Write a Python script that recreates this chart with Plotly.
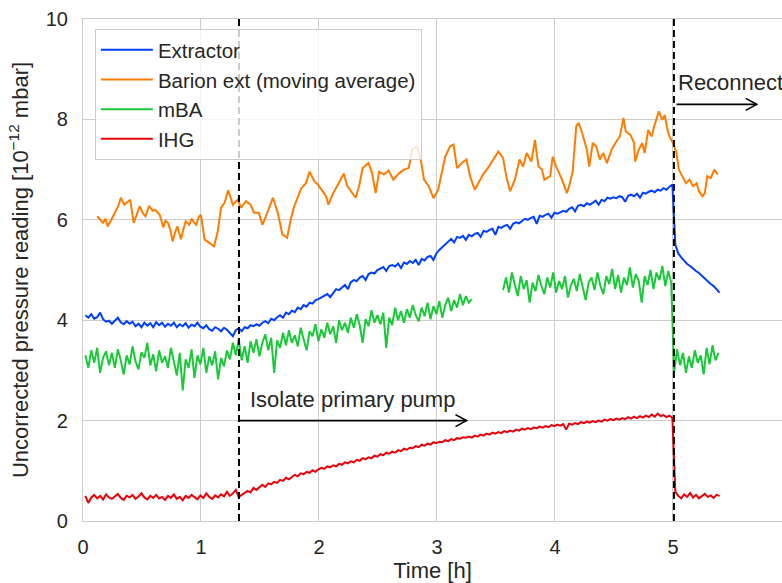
import plotly.graph_objects as go

# ---------------- data ----------------
dt = 0.025
extractor_t0 = 0.02
extractor = [
    4.10, 4.05, 4.12, 4.03, 4.06, 4.15, 4.02, 3.97, 3.99, 3.93,
    3.99, 4.05, 3.96, 3.92, 3.98, 3.93, 3.97, 3.88, 3.93, 3.86,
    3.95, 3.89, 3.94, 3.86, 3.96, 3.90, 3.95, 3.87, 3.93, 3.89,
    3.95, 3.86, 3.92, 3.88, 3.94, 3.85, 3.91, 3.88, 3.95, 3.87,
    3.84, 3.90, 3.82, 3.79, 3.86, 3.83, 3.78, 3.85, 3.81, 3.74,
    3.68, 3.80, 3.84, 3.78, 3.86, 3.84, 3.90, 3.88, 3.92, 3.89,
    3.95, 3.98, 3.94, 4.03, 4.00, 4.06, 4.10, 4.05, 4.15, 4.12,
    4.19, 4.16, 4.25, 4.22, 4.30, 4.27, 4.35, 4.33, 4.40, 4.42,
    4.45, 4.48, 4.52, 4.46, 4.55, 4.62, 4.60, 4.66, 4.70, 4.62,
    4.76, 4.80, 4.78, 4.85, 4.88, 4.80, 4.92, 4.95, 4.93, 5.00,
    5.03, 5.06, 4.98, 5.08, 5.10, 5.07, 5.13, 5.04, 5.15, 5.12,
    5.18, 5.14, 5.20, 5.10, 5.22, 5.19, 5.26, 5.28, 5.20, 5.33,
    5.40, 5.46, 5.52, 5.56, 5.62, 5.55, 5.66, 5.64, 5.68, 5.60,
    5.70, 5.67, 5.72, 5.74, 5.66, 5.78, 5.76, 5.80, 5.82, 5.70,
    5.86, 5.84, 5.88, 5.90, 5.82, 5.92, 5.95, 5.93, 5.98, 6.02,
    6.00, 6.04, 6.06, 5.92, 6.08, 6.06, 6.10, 6.12, 6.04, 6.14,
    6.12, 6.15, 6.18, 6.16, 6.22, 6.25, 6.17, 6.28, 6.30, 6.27,
    6.33, 6.30, 6.34, 6.38, 6.30, 6.40, 6.37, 6.44, 6.42, 6.45,
    6.43, 6.47, 6.45, 6.36, 6.48, 6.50, 6.47, 6.52, 6.44, 6.54,
    6.52, 6.56, 6.58, 6.55, 6.60, 6.58, 6.63, 6.60, 6.66, 6.70,
    5.50, 5.33, 5.25, 5.18, 5.12, 5.08, 5.02, 4.98, 4.94, 4.88,
    4.82, 4.78, 4.72, 4.68, 4.62, 4.55,
]

ihg_t0 = 0.02
ihg = [
    0.50, 0.36, 0.47, 0.52, 0.45, 0.50, 0.43, 0.53, 0.47, 0.44,
    0.49, 0.54, 0.46, 0.42, 0.50, 0.47, 0.52, 0.44, 0.49, 0.55,
    0.47, 0.43, 0.50, 0.46, 0.52, 0.45, 0.48, 0.42, 0.50, 0.46,
    0.53, 0.44, 0.48, 0.41, 0.50, 0.46, 0.52, 0.47, 0.43, 0.51,
    0.46, 0.55, 0.48, 0.44, 0.51, 0.47, 0.53, 0.49, 0.58, 0.50,
    0.55, 0.62, 0.48, 0.52, 0.56, 0.60, 0.57, 0.66, 0.62, 0.68,
    0.72, 0.68, 0.75, 0.73, 0.78, 0.76, 0.82, 0.80, 0.86, 0.83,
    0.88, 0.92, 0.89, 0.95, 0.93, 0.98, 0.96, 1.01, 0.98, 1.03,
    1.06, 1.04, 1.09, 1.07, 1.11, 1.09, 1.14, 1.12, 1.17, 1.15,
    1.19, 1.17, 1.22, 1.20, 1.25, 1.23, 1.27, 1.25, 1.30, 1.28,
    1.33, 1.31, 1.36, 1.34, 1.38, 1.36, 1.41, 1.39, 1.44, 1.42,
    1.46, 1.45, 1.49, 1.47, 1.52, 1.50, 1.54, 1.52, 1.57, 1.55,
    1.58, 1.57, 1.61, 1.59, 1.63, 1.61, 1.65, 1.64, 1.67, 1.66,
    1.68, 1.66, 1.70, 1.68, 1.72, 1.70, 1.74, 1.72, 1.76, 1.74,
    1.77, 1.75, 1.79, 1.77, 1.80, 1.78, 1.82, 1.80, 1.84, 1.82,
    1.85, 1.83, 1.86, 1.85, 1.88, 1.86, 1.89, 1.87, 1.91, 1.89,
    1.92, 1.90, 1.93, 1.82, 1.94, 1.92, 1.95, 1.93, 1.97, 1.95,
    1.98, 1.96, 1.99, 1.97, 2.00, 1.98, 2.02, 2.00, 2.03, 2.01,
    2.04, 2.02, 2.05, 2.03, 2.07, 2.04, 2.08, 2.05, 2.09, 2.06,
    2.10, 2.07, 2.12, 2.08, 2.14, 2.09, 2.11, 2.07, 2.10, 2.05,
    0.58, 0.50, 0.45, 0.53, 0.48, 0.56, 0.47, 0.52, 0.45, 0.50,
    0.54, 0.48, 0.51, 0.46, 0.52, 0.50,
]

mba_a_t0 = 0.02
mba_a = [
    3.30, 3.05, 3.40, 3.15, 3.45, 2.95, 3.25, 3.38, 3.10, 3.35,
    3.05, 3.42, 3.20, 2.92, 3.30, 3.12, 3.48, 3.18, 3.02, 3.36,
    3.25, 3.55, 3.10, 3.32, 2.98, 3.40, 3.15, 3.28, 3.05, 3.45,
    3.18, 2.90, 3.35, 2.60, 3.22, 3.05, 3.42, 2.85, 3.30, 3.12,
    3.45, 2.95, 3.28, 3.10, 3.38, 2.82, 3.25, 3.08, 3.40, 3.22,
    3.55, 3.30, 3.62, 3.20, 3.48, 3.15, 3.58, 3.35, 3.62, 3.28,
    3.55, 3.72, 3.40, 3.65, 2.95, 3.60, 3.45, 3.75, 3.50, 3.80,
    3.55, 3.70, 3.48, 3.85, 3.62, 3.40, 3.78, 3.68, 3.92, 3.58,
    3.82, 3.65, 3.95, 3.72, 3.88, 3.55, 4.00, 3.80, 3.95, 3.75,
    4.05, 3.85, 4.12, 3.90, 3.55, 4.02, 3.88, 4.20, 3.95, 4.10,
    3.92, 4.15, 3.45, 4.05, 3.90, 4.25, 4.00, 4.18, 3.95, 4.22,
    4.05, 4.30, 4.10, 3.98, 4.25, 4.08, 4.35, 4.02, 4.28, 4.12,
    4.38, 4.05, 4.30, 4.45, 4.18, 4.40, 4.25, 4.52, 4.30, 4.48,
    4.35, 4.42,
]
mba_b_t0 = 3.56
mba_b = [
    4.60, 4.85, 4.55, 4.95, 4.70, 4.48, 4.88, 4.62, 4.80, 4.35,
    4.75, 4.58, 4.90, 4.68, 4.52, 4.85, 4.65, 4.95, 4.55, 4.78,
    4.62, 4.88, 4.45, 4.70, 4.82, 4.58, 4.92, 4.65, 4.40, 4.75,
    4.85, 4.60, 4.95, 4.68, 4.52, 4.88, 4.72, 5.02, 4.62, 4.90,
    4.55, 4.85, 4.70, 5.05, 4.65, 4.92, 4.78, 4.35, 4.88, 4.70,
    5.00, 4.62, 4.95, 4.80, 5.08, 4.68, 4.98, 4.75,
]
mba_c_t0 = 5.01
mba_c = [
    2.96, 3.42, 3.10, 3.35, 2.95, 3.28, 3.05, 3.40, 3.15, 3.30,
    2.92, 3.45, 3.12, 3.50, 3.20, 3.35,
]

# Barion ext moving average: (time [h], value)
barion_points = [
    (0.12, 6.07), (0.15, 6.00), (0.17, 5.94), (0.19, 6.02), (0.21, 5.87), (0.24, 6.00),
    (0.27, 6.14), (0.30, 6.28), (0.32, 6.44), (0.35, 6.30), (0.37, 6.34), (0.40, 6.40),
    (0.43, 5.94), (0.46, 6.15), (0.48, 6.27), (0.51, 6.12), (0.53, 6.07), (0.56, 6.28),
    (0.59, 6.18), (0.61, 6.20), (0.63, 6.15), (0.65, 6.10), (0.68, 5.85), (0.70, 5.98),
    (0.72, 5.94), (0.74, 5.80), (0.76, 5.57), (0.78, 5.75), (0.80, 5.87), (0.83, 5.61),
    (0.85, 5.80), (0.87, 5.97), (0.90, 5.90), (0.92, 6.02), (0.94, 5.95), (0.96, 5.90),
    (0.98, 6.05), (1.00, 6.10), (1.03, 5.61), (1.07, 5.54), (1.11, 5.47), (1.14, 5.74),
    (1.17, 6.24), (1.20, 6.34), (1.23, 6.59), (1.27, 6.30), (1.31, 6.40), (1.34, 6.24),
    (1.38, 6.37), (1.42, 6.30), (1.45, 6.14), (1.49, 6.14), (1.52, 5.90), (1.55, 6.07),
    (1.58, 6.27), (1.61, 6.44), (1.65, 6.14), (1.69, 5.71), (1.73, 5.64), (1.76, 6.00),
    (1.79, 6.27), (1.82, 6.47), (1.85, 6.63), (1.89, 6.73), (1.92, 6.96), (1.96, 6.77),
    (1.99, 6.70), (2.03, 6.57), (2.06, 6.47), (2.08, 6.30), (2.12, 6.53), (2.16, 6.70),
    (2.21, 6.92), (2.24, 6.67), (2.28, 6.53), (2.31, 6.44), (2.34, 6.67), (2.37, 7.03),
    (2.42, 7.13), (2.45, 6.93), (2.48, 6.53), (2.51, 6.96), (2.55, 6.90), (2.59, 6.98),
    (2.63, 6.80), (2.68, 6.93), (2.72, 7.00), (2.76, 7.03), (2.79, 7.40), (2.83, 7.46),
    (2.86, 7.23), (2.89, 6.80), (2.93, 6.67), (2.97, 6.43), (3.01, 6.60), (3.04, 6.93),
    (3.07, 7.26), (3.11, 7.46), (3.14, 7.50), (3.17, 7.03), (3.21, 7.13), (3.25, 7.20),
    (3.28, 6.87), (3.32, 6.60), (3.35, 6.73), (3.39, 6.90), (3.44, 7.06), (3.48, 7.20),
    (3.52, 7.36), (3.56, 7.23), (3.59, 6.83), (3.62, 6.57), (3.66, 6.80), (3.70, 7.20),
    (3.73, 7.06), (3.76, 7.33), (3.80, 7.16), (3.83, 7.59), (3.86, 7.06), (3.89, 7.00),
    (3.91, 6.80), (3.96, 6.87), (3.98, 7.26), (4.01, 7.06), (4.06, 6.80), (4.10, 6.53),
    (4.12, 6.67), (4.15, 6.96), (4.18, 7.86), (4.20, 7.93), (4.23, 7.73), (4.27, 7.40),
    (4.29, 7.06), (4.32, 7.53), (4.35, 7.46), (4.38, 7.20), (4.41, 7.33), (4.44, 7.13),
    (4.48, 7.40), (4.52, 7.56), (4.55, 7.66), (4.58, 8.03), (4.60, 7.76), (4.64, 7.69),
    (4.67, 7.53), (4.68, 7.16), (4.71, 7.40), (4.74, 7.53), (4.76, 7.33), (4.79, 7.79),
    (4.82, 7.66), (4.84, 7.86), (4.88, 8.16), (4.91, 7.99), (4.93, 8.09), (4.95, 7.83),
    (4.97, 7.66), (5.00, 7.53), (5.03, 7.33), (5.05, 7.00), (5.08, 6.87), (5.11, 6.73),
    (5.14, 6.80), (5.17, 6.67), (5.20, 6.73), (5.22, 6.57), (5.25, 6.47), (5.27, 6.53),
    (5.29, 6.87), (5.32, 6.83), (5.35, 7.00), (5.38, 6.90),
]

isolate_t = 1.322
reconnect_t = 5.008
isolate_label = "Isolate primary pump"
reconnect_label = "Reconnect"
isolate_arrow = (isolate_t, 3.25, 2.0)     # start, end, level
reconnect_arrow = (5.03, 5.71, 8.3)
x_ticks = [0, 1, 2, 3, 4, 5]
y_ticks = [0, 2, 4, 6, 8, 10]

# ---------------- styling ----------------
COL = {"Extractor": "#023eff", "Barion": "#ff7c00", "mBA": "#1ac938", "IHG": "#e8000b"}
FONT = "Liberation Sans, Arial, sans-serif"
TXT = "#262626"
GRID = "#cccccc"


def times(t0, n):
    return [t0 + dt * i for i in range(n)]


fig = go.Figure()
fig.add_trace(go.Scatter(x=times(extractor_t0, len(extractor)), y=extractor, mode="lines",
                         name="Extractor", line=dict(color=COL["Extractor"], width=2)))
bt = [p[0] for p in barion_points]
bv = [p[1] for p in barion_points]
fig.add_trace(go.Scatter(x=bt, y=bv, mode="lines", name="Barion ext (moving average)",
                         line=dict(color=COL["Barion"], width=2)))
mx = times(mba_a_t0, len(mba_a)) + [None] + times(mba_b_t0, len(mba_b)) + times(mba_c_t0, len(mba_c))
my = mba_a + [None] + mba_b + mba_c
fig.add_trace(go.Scatter(x=mx, y=my, mode="lines", name="mBA", connectgaps=False,
                         line=dict(color=COL["mBA"], width=2)))
fig.add_trace(go.Scatter(x=times(ihg_t0, len(ihg)), y=ihg, mode="lines", name="IHG",
                         line=dict(color=COL["IHG"], width=2)))

shapes = []
for t in (isolate_t, reconnect_t):
    shapes.append(dict(type="line", xref="x", yref="paper", x0=t, x1=t, y0=0, y1=1,
                       line=dict(color="black", width=2, dash="7px,4px"), layer="above"))
for (a0, a1, lev) in (isolate_arrow, reconnect_arrow):
    shapes.append(dict(type="line", xref="x", yref="y", x0=a0, x1=a1, y0=lev, y1=lev,
                       line=dict(color="black", width=1.6)))
    shapes.append(dict(type="path", xref="x", yref="y", xsizemode="pixel", ysizemode="pixel",
                       xanchor=a1, yanchor=lev, path="M -11 6 L 0 0 L -11 -6",
                       line=dict(color="black", width=1.6)))

annotations = [
    dict(x=isolate_t + 0.075, y=2.42, xref="x", yref="y", text=isolate_label, showarrow=False,
         xanchor="left", yanchor="middle", font=dict(size=22, color=TXT, family=FONT)),
    dict(x=reconnect_t + 0.02, y=8.74, xref="x", yref="y", text=reconnect_label, showarrow=False,
         xanchor="left", yanchor="middle", font=dict(size=22, color=TXT, family=FONT)),
]

fig.update_layout(
    width=782, height=583,
    margin=dict(l=83, r=0, t=19, b=62),
    paper_bgcolor="white", plot_bgcolor="white",
    font=dict(family=FONT, color=TXT, size=20),
    shapes=shapes, annotations=annotations,
    showlegend=True,
    legend=dict(x=0.017, y=0.98, xanchor="left", yanchor="top",
                bgcolor="rgba(255,255,255,0.8)", bordercolor=GRID, borderwidth=1,
                itemwidth=52, tracegroupgap=0,
                font=dict(size=20.5, family=FONT, color=TXT)),
    xaxis=dict(range=[0, 5.924], tickvals=x_ticks, showgrid=True, gridcolor=GRID, gridwidth=1,
               showline=True, linecolor=GRID, linewidth=1.25, mirror=True, zeroline=False,
               ticks="", ticklabelstandoff=8, tickfont=dict(size=20),
               title=dict(text="Time [h]", font=dict(size=22), standoff=4)),
    yaxis=dict(range=[0, 10], tickvals=y_ticks, showgrid=True, gridcolor=GRID, gridwidth=1,
               showline=True, linecolor=GRID, linewidth=1.25, zeroline=False,
               ticks="", ticklabelstandoff=10, tickfont=dict(size=20),
               title=dict(text="Uncorrected pressure reading [10<sup>\u221212</sup> mbar]",
                          font=dict(size=22), standoff=10)),
)

fig.write_html("out.html")
